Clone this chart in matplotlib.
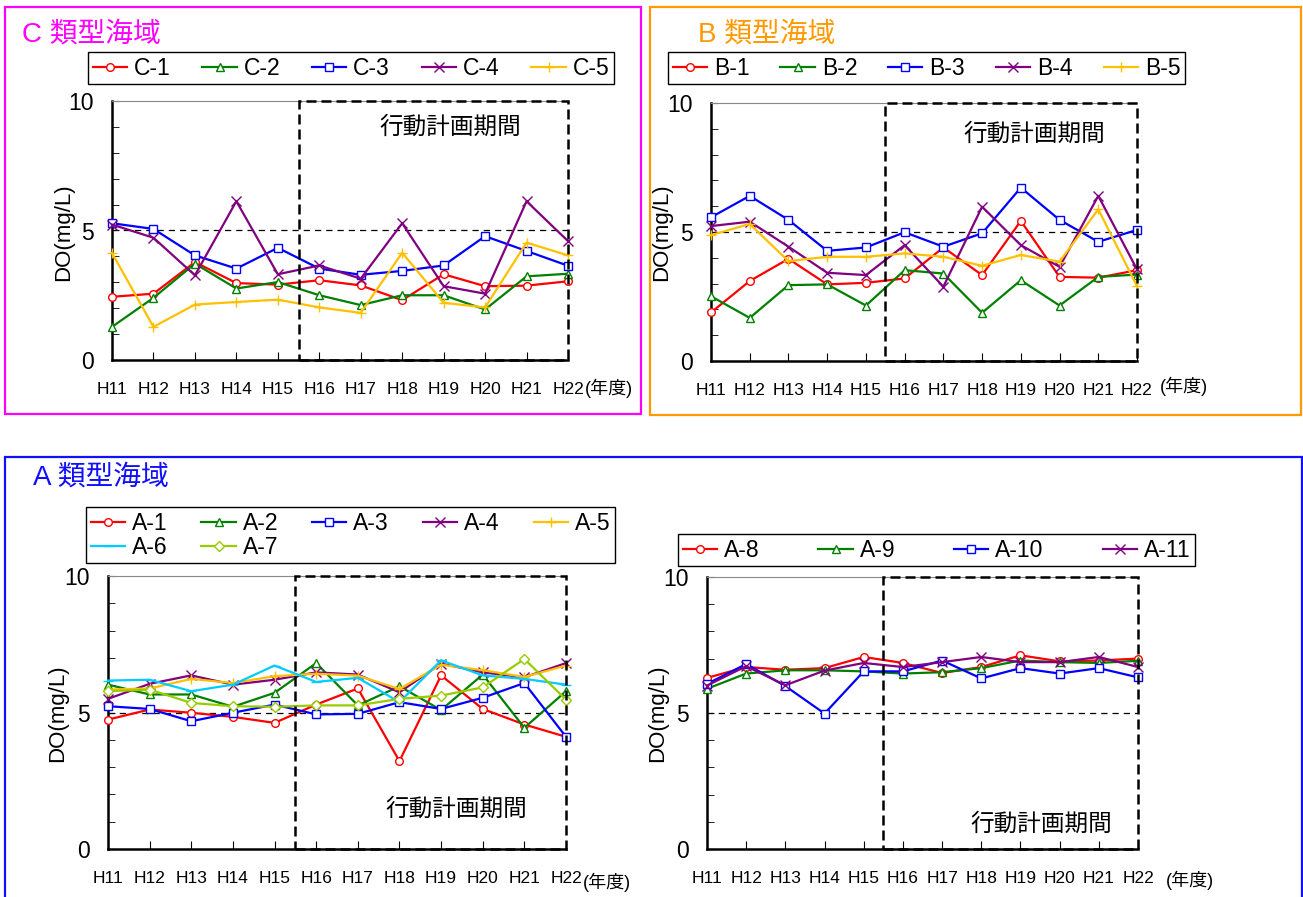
import numpy as np
import matplotlib
matplotlib.use('Agg')
import matplotlib.pyplot as plt
from matplotlib.patches import Rectangle
from matplotlib.ticker import MultipleLocator

plt.rcParams['font.family'] = ['Liberation Sans', 'Noto Sans CJK JP']

years = ['H11', 'H12', 'H13', 'H14', 'H15', 'H16', 'H17', 'H18', 'H19', 'H20', 'H21', 'H22']

# C類型海域
c_names = ['C-1', 'C-2', 'C-3', 'C-4', 'C-5']
c1 = [2.44, 2.56, 3.78, 2.97, 2.91, 3.08, 2.88, 2.31, 3.31, 2.85, 2.87, 3.04]
c2 = [1.28, 2.40, 3.72, 2.76, 3.01, 2.50, 2.12, 2.50, 2.50, 1.95, 3.23, 3.33]
c3 = [5.28, 5.06, 4.04, 3.53, 4.33, 3.53, 3.29, 3.44, 3.65, 4.78, 4.21, 3.64]
c4 = [5.23, 4.72, 3.27, 6.13, 3.31, 3.65, 3.14, 5.28, 2.85, 2.56, 6.13, 4.59]
c5 = [4.13, 1.28, 2.14, 2.24, 2.33, 2.03, 1.82, 4.14, 2.21, 2.03, 4.53, 4.04]

# B類型海域
b_names = ['B-1', 'B-2', 'B-3', 'B-4', 'B-5']
b1 = [1.88, 3.10, 3.96, 2.97, 3.03, 3.20, 4.40, 3.33, 5.43, 3.26, 3.23, 3.52]
b2 = [2.51, 1.67, 2.94, 2.97, 2.15, 3.52, 3.39, 1.87, 3.13, 2.15, 3.26, 3.35]
b3 = [5.57, 6.40, 5.47, 4.27, 4.40, 4.99, 4.43, 4.95, 6.72, 5.47, 4.62, 5.08]
b4 = [5.23, 5.40, 4.43, 3.42, 3.33, 4.49, 2.88, 5.98, 4.49, 3.65, 6.40, 3.55]
b5 = [4.88, 5.31, 3.87, 4.04, 4.04, 4.17, 4.04, 3.69, 4.11, 3.85, 5.88, 2.90]

# A類型海域 (A-1 ~ A-7)
a_names = ['A-1', 'A-2', 'A-3', 'A-4', 'A-5', 'A-6', 'A-7']
a1 = [4.74, 5.11, 4.99, 4.84, 4.62, 5.29, 5.88, 3.22, 6.36, 5.13, 4.56, 4.11]
a2 = [6.02, 5.66, 5.66, 5.21, 5.72, 6.81, 5.26, 5.96, 5.09, 6.39, 4.44, 5.78]
a3 = [5.23, 5.13, 4.68, 4.99, 5.29, 4.93, 4.95, 5.38, 5.13, 5.54, 6.08, 4.11]
a4 = [5.50, 6.05, 6.36, 6.02, 6.20, 6.47, 6.39, 5.74, 6.79, 6.47, 6.29, 6.81]
a5 = [5.84, 5.88, 6.23, 6.08, 6.33, 6.42, 6.35, 5.86, 6.75, 6.55, 6.30, 6.72]
a6 = [6.17, 6.20, 5.78, 6.02, 6.72, 6.12, 6.27, 5.38, 6.91, 6.36, 6.23, 6.02]
a7 = [5.78, 5.84, 5.35, 5.23, 5.21, 5.26, 5.26, 5.50, 5.62, 5.92, 6.96, 5.47]

# A類型海域 (A-8 ~ A-11)
a2_names = ['A-8', 'A-9', 'A-10', 'A-11']
a8 = [6.29, 6.69, 6.59, 6.65, 7.06, 6.84, 6.47, 6.69, 7.12, 6.90, 6.93, 7.00]
a9 = [5.89, 6.45, 6.57, 6.57, 6.53, 6.45, 6.50, 6.65, 6.93, 6.87, 6.84, 6.92]
a10 = [6.07, 6.80, 5.99, 4.98, 6.53, 6.53, 6.93, 6.27, 6.65, 6.45, 6.65, 6.31]
a11 = [6.01, 6.72, 6.02, 6.56, 6.84, 6.69, 6.87, 7.06, 6.87, 6.87, 7.06, 6.69]

RED, GREEN, BLUE, PURPLE, YELLOW = '#FF0000', '#008000', '#0000FF', '#800080', '#FFC000'
CYAN, YGREEN = '#00CCFF', '#99CC00'
base_styles = [(RED, 'o'), (GREEN, '^'), (BLUE, 's'), (PURPLE, 'x'), (YELLOW, '+')]
a_styles = base_styles + [(CYAN, '_'), (YGREEN, 'D')]

W, H = 1303, 897
fig = plt.figure(figsize=(W / 100, H / 100), dpi=100)


def box(l, t, r, b):
    return [l / W, 1 - b / H, (r - l) / W, (b - t) / H]


def ftext(x, y, s, **kw):
    fig.text(x / W, 1 - y / H, s, **kw)


def frame(l, t, r, b, color):
    fig.add_artist(Rectangle((l / W, 1 - b / H), (r - l) / W, (b - t) / H,
                             transform=fig.transFigure, fill=False,
                             ec=color, lw=1.6))


def panel(pos, series, names, styles):
    ax = fig.add_axes(box(*pos))
    x = np.arange(len(years))
    handles = []
    for vals, name, (c, m) in zip(series, names, styles):
        ms = 5.5 if m in 'os^D' else 7.5
        h, = ax.plot(x, vals, color=c, lw=1.6, marker=m, ms=ms, mew=1,
                     mfc='white', mec=c, label=name, clip_on=False, zorder=3)
        handles.append(h)
    ax.set_xlim(0, 11)
    ax.set_ylim(0, 10)
    ax.axhline(5, color='k', lw=0.9, ls=(0, (5, 4)), zorder=1)
    ax.add_patch(Rectangle((4.5, 0), 6.5, 10, fill=False, ec='k', lw=1.8,
                           ls=(0, (4, 2)), clip_on=False, zorder=4))
    ax.set_xticks(x)
    ax.set_xticklabels(years, fontsize=12.5)
    ax.set_yticks([0, 5, 10])
    ax.yaxis.set_minor_locator(MultipleLocator(1))
    ax.tick_params(axis='y', which='both', direction='in', length=5,
                   labelsize=16.5, pad=13)
    ax.tick_params(axis='x', direction='in', length=6, pad=16)
    for s in ('left', 'bottom'):
        ax.spines[s].set_linewidth(1.8)
    ax.spines['top'].set_color('#888888')
    ax.spines['top'].set_linewidth(0.8)
    ax.spines['right'].set_visible(False)
    return ax, handles


def legend(handles, l, t, r, b, ncol):
    labels = [h.get_label() for h in handles]
    fig.legend(handles, labels, loc='upper left', ncol=ncol, mode='expand',
               bbox_to_anchor=(l / W, 1 - b / H, (r - l) / W, (b - t) / H),
               borderaxespad=0, fontsize=16.5, handlelength=1.5,
               handletextpad=0.3, borderpad=0.2, labelspacing=0.05,
               fancybox=False, framealpha=1, edgecolor='k')


# frames and titles
frame(5, 7, 641, 414, '#FF00FF')
frame(650, 7, 1301, 415, '#FF9900')
frame(5, 457, 1302, 905, '#1010FF')
ftext(22, 35, 'C 類型海域', fontsize=20, color='#FF00FF', va='center')
ftext(698, 35, 'B 類型海域', fontsize=20, color='#FF9900', va='center')
ftext(33, 478, 'A 類型海域', fontsize=20, color='#1010FF', va='center')

# C panel
ax, hs = panel((112, 101, 568, 360), [c1, c2, c3, c4, c5], c_names, base_styles)
legend(hs, 88, 52, 614, 88, 5)
ftext(450, 128, '行動計画期間', fontsize=17, ha='center', va='center')
ftext(585, 388, '(年度)', fontsize=13, va='center')
ftext(64, 232, 'DO(mg/L)', fontsize=16, rotation=90, ha='center', va='center')

# B panel
ax, hs = panel((711, 103, 1137, 361), [b1, b2, b3, b4, b5], b_names, base_styles)
legend(hs, 668, 52, 1185, 88, 5)
ftext(1034, 135, '行動計画期間', fontsize=17, ha='center', va='center')
ftext(1160, 386, '(年度)', fontsize=13, va='center')
ftext(662, 232, 'DO(mg/L)', fontsize=16, rotation=90, ha='center', va='center')

# A panel (left)
ax, hs = panel((108, 576, 566, 849), [a1, a2, a3, a4, a5, a6, a7], a_names, a_styles)
order = [0, 5, 1, 6, 2, 3, 4]
legend([hs[i] for i in order], 86, 507, 615, 561, 5)
ftext(456, 810, '行動計画期間', fontsize=17, ha='center', va='center')
ftext(583, 882, '(年度)', fontsize=13, va='center')
ftext(58, 713, 'DO(mg/L)', fontsize=16, rotation=90, ha='center', va='center')

# A panel (right)
ax, hs = panel((707, 577, 1138, 849), [a8, a9, a10, a11], a2_names, base_styles[:4])
legend(hs, 678, 534, 1195, 571, 4)
ftext(1041, 825, '行動計画期間', fontsize=17, ha='center', va='center')
ftext(1166, 880, '(年度)', fontsize=13, va='center')
ftext(658, 713, 'DO(mg/L)', fontsize=16, rotation=90, ha='center', va='center')

fig.savefig('out.png', dpi=100, facecolor='white')
